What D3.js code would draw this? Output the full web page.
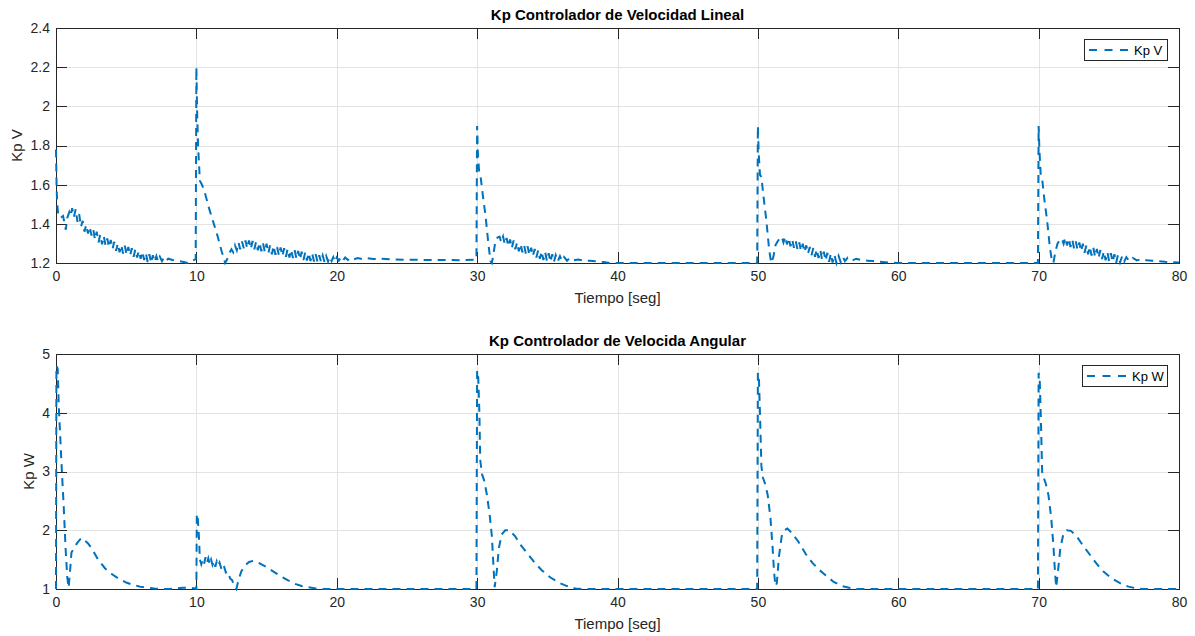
<!DOCTYPE html>
<html>
<head>
<meta charset="utf-8">
<script src="https://cdn.jsdelivr.net/npm/d3@7"></script>
<style>
  body { margin: 0; background: #fff; }
  svg { display: block; font-family: "Liberation Sans", Arial, Helvetica, sans-serif; }
</style>
</head>
<body>
<svg id="chart"></svg>
<script>
// tick values
const timeTicks = [0, 10, 20, 30, 40, 50, 60, 70, 80];
const kpVTicks = [1.2, 1.4, 1.6, 1.8, 2, 2.2, 2.4];
const kpWTicks = [1, 2, 3, 4, 5];

// Kp V  [tiempo, valor]
const kpV0 = [[0,1.78],[0.04,1.6],[0.08,1.51],[0.15,1.45],[0.3,1.43],[0.5,1.44],[0.62,1.4],[0.7,1.37],[0.8,1.43],
  [0.95,1.46],[1.05,1.44],[1.15,1.48],[1.28,1.435],[1.4,1.475],[1.53,1.41],[1.65,1.45],[1.78,1.385],[1.9,1.415],[2.03,1.36],
  [2.15,1.395],[2.28,1.35],[2.4,1.385],[2.53,1.34],[2.65,1.372],[2.78,1.32],[2.9,1.36],[3.03,1.305],[3.15,1.345],[3.28,1.295],
  [3.4,1.338],[3.53,1.29],[3.65,1.325],[3.78,1.28],[3.9,1.318],[4.03,1.272],[4.15,1.308],[4.28,1.262],[4.4,1.3],[4.53,1.255],
  [4.65,1.292],[4.78,1.248],[4.9,1.288],[5.03,1.242],[5.15,1.282],[5.28,1.238],[5.4,1.275],[5.53,1.232],[5.65,1.27],[5.78,1.228],
  [5.9,1.262],[6.03,1.222],[6.15,1.258],[6.28,1.215],[6.4,1.25],[6.53,1.205],[6.65,1.245],[6.78,1.2],[6.9,1.24],[7.03,1.205],
  [7.15,1.235],[7.28,1.208],[7.4,1.232],[7.55,1.21],[7.7,1.228],[7.85,1.212],[8.0,1.222],[8.3,1.215],[8.7,1.21],[9.1,1.205],
  [9.4,1.2],[9.7,1.21],[9.95,1.22]];
const kpV10 = [[10.0,2.2],[10.05,1.98],[10.12,1.8],[10.25,1.62],[10.4,1.6],[10.6,1.56],[10.9,1.48],[11.2,1.41],[11.5,1.34],[11.8,1.26],
  [12.05,1.2],[12.2,1.22],[12.35,1.25],[12.5,1.27],[12.62,1.255],[12.75,1.29],[12.88,1.265],[13.0,1.305],[13.12,1.27],[13.25,1.31],
  [13.38,1.275],[13.5,1.315],[13.62,1.275],[13.75,1.315],[13.88,1.272],[14.0,1.312],[14.13,1.27],[14.25,1.308],[14.38,1.265],[14.5,1.305],
  [14.63,1.26],[14.75,1.3],[14.88,1.255],[15.0,1.298],[15.13,1.25],[15.25,1.29],[15.38,1.245],[15.5,1.288],[15.63,1.242],[15.75,1.282],
  [15.88,1.238],[16.0,1.28],[16.13,1.235],[16.25,1.275],[16.38,1.232],[16.5,1.272],[16.63,1.228],[16.75,1.268],[16.88,1.225],[17.0,1.265],
  [17.13,1.222],[17.25,1.262],[17.38,1.218],[17.5,1.258],[17.63,1.215],[17.75,1.255],[17.88,1.212],[18.0,1.252],[18.13,1.21],[18.25,1.248],
  [18.38,1.208],[18.5,1.245],[18.63,1.205],[18.75,1.24],[18.88,1.205],[19.0,1.238],[19.13,1.205],[19.25,1.235],[19.38,1.208],[19.5,1.232],
  [19.63,1.21],[19.75,1.23],[19.88,1.205],[20.0,1.228],[20.15,1.212],[20.3,1.23],[20.45,1.214],[20.6,1.228],[20.8,1.215],[21.0,1.226],
  [21.2,1.218],[21.5,1.225],[21.8,1.22],[22.2,1.224],[22.6,1.22],[23.0,1.222],[24,1.218],[25,1.216],[26,1.216],[27,1.215],
  [28,1.215],[29,1.214],[29.95,1.218]];
const kpV30 = [[30.0,1.9],[30.06,1.75],[30.15,1.66],[30.25,1.64],[30.4,1.55],[30.6,1.44],[30.8,1.3],[30.95,1.21],[31.05,1.2],[31.15,1.24],
  [31.3,1.31],[31.45,1.33],[31.6,1.335],[31.72,1.305],[31.85,1.335],[31.97,1.295],[32.1,1.328],[32.22,1.285],[32.35,1.32],[32.47,1.275],
  [32.6,1.315],[32.72,1.27],[32.85,1.305],[32.97,1.26],[33.1,1.298],[33.22,1.255],[33.35,1.29],[33.47,1.248],[33.6,1.285],[33.72,1.24],
  [33.85,1.278],[33.97,1.235],[34.1,1.272],[34.22,1.228],[34.35,1.265],[34.47,1.222],[34.6,1.26],[34.72,1.215],[34.85,1.255],[34.97,1.21],
  [35.1,1.25],[35.22,1.205],[35.35,1.245],[35.47,1.205],[35.6,1.24],[35.75,1.208],[35.9,1.235],[36.05,1.21],[36.2,1.23],[36.4,1.212],
  [36.6,1.226],[36.9,1.214],[37.2,1.218],[37.6,1.212],[38.0,1.212],[38.5,1.208],[39.0,1.205],[39.5,1.2],[40,1.2],[45,1.2],[49.95,1.2]];
const kpV50 = [[50.0,1.9],[50.06,1.76],[50.15,1.65],[50.25,1.64],[50.4,1.54],[50.6,1.42],[50.8,1.27],[50.95,1.2],[51.1,1.23],[51.25,1.29],
  [51.4,1.31],[51.55,1.325],[51.7,1.335],[51.82,1.305],[51.95,1.335],[52.07,1.295],[52.2,1.328],[52.32,1.285],[52.45,1.32],[52.57,1.278],
  [52.7,1.312],[52.82,1.27],[52.95,1.305],[53.07,1.262],[53.2,1.298],[53.32,1.255],[53.45,1.29],[53.57,1.248],[53.7,1.282],[53.82,1.24],
  [53.95,1.276],[54.07,1.232],[54.2,1.27],[54.32,1.225],[54.45,1.265],[54.57,1.218],[54.7,1.258],[54.82,1.212],[54.95,1.252],[55.07,1.206],
  [55.2,1.248],[55.32,1.202],[55.45,1.242],[55.6,1.2],[55.75,1.236],[55.9,1.205],[56.05,1.232],[56.2,1.21],[56.4,1.228],[56.7,1.212],
  [57.0,1.222],[57.4,1.214],[57.8,1.212],[58.2,1.21],[58.7,1.206],[59.3,1.203],[60,1.2],[65,1.2],[69.95,1.2]];
const kpV70 = [[70.0,1.9],[70.06,1.77],[70.15,1.65],[70.25,1.63],[70.4,1.53],[70.6,1.42],[70.8,1.28],[70.95,1.21],[71.05,1.2],[71.2,1.26],
  [71.35,1.3],[71.5,1.315],[71.65,1.325],[71.78,1.298],[71.9,1.33],[72.02,1.29],[72.15,1.325],[72.27,1.282],[72.4,1.318],[72.52,1.275],
  [72.65,1.31],[72.77,1.268],[72.9,1.305],[73.02,1.26],[73.15,1.298],[73.27,1.252],[73.4,1.29],[73.52,1.245],[73.65,1.284],[73.77,1.238],
  [73.9,1.278],[74.02,1.232],[74.15,1.272],[74.27,1.226],[74.4,1.266],[74.52,1.22],[74.65,1.26],[74.77,1.214],[74.9,1.255],[75.02,1.21],
  [75.15,1.25],[75.27,1.205],[75.4,1.245],[75.52,1.2],[75.65,1.24],[75.8,1.203],[75.95,1.235],[76.1,1.208],[76.25,1.23],[76.45,1.21],
  [76.7,1.226],[77.0,1.213],[77.3,1.22],[77.7,1.214],[78.1,1.212],[78.5,1.21],[79.0,1.206],[79.5,1.204],[80,1.203]];

// Kp W  [tiempo, valor]
const kpW0 = [[0,1.0],[0.03,4.8],[0.12,4.75],[0.2,4.1],[0.3,3.6],[0.42,3.0],[0.55,2.4],[0.68,1.7],[0.8,1.2],[0.9,1.02],
  [1.0,1.3],[1.1,1.62],[1.3,1.7],[1.5,1.78],[1.7,1.84],[1.85,1.87],[2.05,1.83],[2.3,1.77],[2.6,1.67],[3.0,1.5],
  [3.5,1.35],[4.0,1.25],[4.5,1.17],[5.0,1.11],[5.5,1.07],[6.0,1.04],[6.5,1.025],[7.0,1.01],[7.5,1.0],[8.0,1.0],
  [8.5,1.01],[9.0,1.02],[9.5,1.02],[9.9,1.01],[9.98,1.0]];
const kpW10 = [[10.0,1.0],[10.03,2.28],[10.1,2.2],[10.18,1.9],[10.25,1.5],[10.35,1.42],[10.45,1.5],[10.55,1.43],[10.65,1.54],[10.75,1.44],
  [10.85,1.52],[10.95,1.42],[11.05,1.5],[11.15,1.41],[11.25,1.48],[11.35,1.38],[11.45,1.47],[11.55,1.4],[11.65,1.45],[11.8,1.33],
  [11.95,1.4],[12.1,1.28],[12.25,1.3],[12.4,1.18],[12.55,1.15],[12.7,1.05],[12.85,1.0],[13.0,1.15],[13.2,1.3],[13.45,1.4],
  [13.75,1.46],[14.05,1.48],[14.4,1.45],[14.8,1.4],[15.2,1.34],[15.6,1.28],[16.0,1.22],[16.5,1.15],[17.0,1.09],[17.5,1.05],
  [18.0,1.03],[18.5,1.01],[19,1.0],[20,1.0],[25,1.0],[29.95,1.0]];
const kpW30 = [[30.0,4.72],[30.08,4.6],[30.16,4.0],[30.22,3.2],[30.35,2.95],[30.5,2.85],[30.7,2.6],[30.9,2.25],[31.05,1.9],[31.15,1.45],
  [31.25,1.03],[31.4,1.3],[31.55,1.7],[31.75,1.93],[32.0,2.0],[32.3,2.0],[32.7,1.9],[33.1,1.75],[33.6,1.6],[34.1,1.45],
  [34.6,1.32],[35.2,1.2],[35.8,1.11],[36.4,1.05],[37,1.01],[37.5,1.0],[40,1.0],[45,1.0],[49.95,1.0]];
const kpW50 = [[50.0,4.68],[50.08,4.55],[50.16,3.9],[50.25,3.1],[50.35,2.9],[50.5,2.8],[50.7,2.6],[50.9,2.2],[51.05,1.7],[51.15,1.3],
  [51.25,1.05],[51.35,1.1],[51.5,1.55],[51.7,1.9],[51.9,2.0],[52.1,2.03],[52.4,1.96],[52.9,1.8],[53.4,1.6],[53.9,1.44],
  [54.4,1.32],[54.8,1.24],[55.4,1.12],[56,1.05],[56.5,1.02],[57,1.0],[60,1.0],[65,1.0],[69.95,1.0]];
const kpW70 = [[70.0,4.68],[70.08,4.55],[70.16,3.9],[70.25,3.0],[70.35,2.9],[70.5,2.8],[70.7,2.6],[70.9,2.2],[71.05,1.75],[71.15,1.35],
  [71.25,1.03],[71.4,1.35],[71.55,1.7],[71.75,1.92],[72.0,2.0],[72.3,1.99],[72.7,1.9],[73.1,1.76],[73.6,1.6],[74.1,1.44],
  [74.6,1.3],[75.2,1.18],[75.8,1.1],[76.4,1.04],[77,1.01],[77.5,1.0],[80,1.0]];

const kpV = [].concat(kpV0, kpV10, kpV30, kpV50, kpV70);
const kpW = [].concat(kpW0, kpW10, kpW30, kpW50, kpW70);

const width = 1195, height = 636;
const lineColor = '#0072BD';
const axisColor = '#262626';

const svg = d3.select('#chart')
    .attr('width', width)
    .attr('height', height);

svg.append('rect').attr('width', width).attr('height', height).attr('fill', '#fff');

function drawPanel(opts) {
    const g = svg.append('g');
    const x = d3.scaleLinear().domain([0, 80]).range([56, 1179]);
    const y = d3.scaleLinear().domain(opts.yDomain).range([opts.bottom, opts.top]);
    const h = opts.bottom - opts.top;
    const w = 1179 - 56;

    // grid
    const gridX = g.append('g')
        .attr('transform', `translate(0, ${opts.bottom})`)
        .call(d3.axisBottom(x).tickValues(timeTicks).tickSize(-h).tickFormat(''));
    const gridY = g.append('g')
        .attr('transform', `translate(56, 0)`)
        .call(d3.axisLeft(y).tickValues(opts.yTicks).tickSize(-w).tickFormat(''));
    [gridX, gridY].forEach(gr => {
        gr.select('.domain').remove();
        gr.selectAll('line').attr('stroke', '#e3e3e3').attr('shape-rendering', 'crispEdges');
    });

    // box + ticks
    const axes = [
        g.append('g').attr('transform', `translate(0, ${opts.bottom})`)
            .call(d3.axisBottom(x).tickValues(timeTicks).tickSizeInner(-11).tickSizeOuter(0).tickPadding(8)),
        g.append('g').attr('transform', `translate(0, ${opts.top})`)
            .call(d3.axisTop(x).tickValues(timeTicks).tickSizeInner(-11).tickSizeOuter(0).tickFormat('')),
        g.append('g').attr('transform', `translate(56, 0)`)
            .call(d3.axisLeft(y).tickValues(opts.yTicks).tickSizeInner(-11).tickSizeOuter(0).tickPadding(6)
                .tickFormat(d => String(d))),
        g.append('g').attr('transform', `translate(1179, 0)`)
            .call(d3.axisRight(y).tickValues(opts.yTicks).tickSizeInner(-11).tickSizeOuter(0).tickFormat(''))
    ];
    axes.forEach(a => {
        a.attr('font-family', null).attr('font-size', 14);
        a.selectAll('.domain').attr('stroke', axisColor).attr('shape-rendering', 'crispEdges');
        a.selectAll('line').attr('stroke', axisColor).attr('shape-rendering', 'crispEdges');
        a.selectAll('text').attr('fill', axisColor);
    });

    // data
    const line = d3.line().x(d => x(d[0])).y(d => y(d[1]));
    g.append('path')
        .datum(opts.data)
        .attr('d', line)
        .attr('fill', 'none')
        .attr('stroke', lineColor)
        .attr('stroke-width', 2)
        .attr('stroke-dasharray', '8,6');

    // title
    g.append('text')
        .attr('x', 617.5).attr('y', opts.top - 8)
        .attr('text-anchor', 'middle')
        .attr('font-weight', 'bold')
        .attr('font-size', 15)
        .attr('fill', '#000')
        .text(opts.title);

    // x label
    g.append('text')
        .attr('x', 617.5).attr('y', opts.bottom + 40)
        .attr('text-anchor', 'middle')
        .attr('font-size', 15)
        .attr('fill', axisColor)
        .text('Tiempo [seg]');

    // y label
    g.append('text')
        .attr('transform', `translate(${opts.yLabelX}, ${(opts.top + opts.bottom) / 2}) rotate(-90)`)
        .attr('text-anchor', 'middle')
        .attr('dy', '0.35em')
        .attr('font-size', 15)
        .attr('fill', axisColor)
        .text(opts.yLabel);

    // legend
    const lg = opts.legend;
    g.append('rect')
        .attr('x', lg.x + 0.5).attr('y', lg.y + 0.5)
        .attr('width', lg.w).attr('height', 21)
        .attr('fill', '#fff')
        .attr('stroke', axisColor)
        .attr('stroke-width', 1);
    g.append('line')
        .attr('x1', lg.x + 5).attr('x2', lg.x + 48)
        .attr('y1', lg.y + 11).attr('y2', lg.y + 11)
        .attr('stroke', lineColor)
        .attr('stroke-width', 2)
        .attr('stroke-dasharray', '8,7.5');
    g.append('text')
        .attr('x', lg.x + 50).attr('y', lg.y + 11)
        .attr('dy', '0.35em')
        .attr('font-size', 13)
        .attr('fill', '#000')
        .text(opts.yLabel);
}

drawPanel({
    top: 28, bottom: 263,
    yDomain: [1.2, 2.4], yTicks: kpVTicks,
    data: kpV,
    title: 'Kp Controlador de Velocidad Lineal',
    yLabel: 'Kp V', yLabelX: 17,
    legend: { x: 1084, y: 39, w: 83 }
});

drawPanel({
    top: 354, bottom: 589,
    yDomain: [1, 5], yTicks: kpWTicks,
    data: kpW,
    title: 'Kp Controlador de Velocida Angular',
    yLabel: 'Kp W', yLabelX: 29,
    legend: { x: 1082, y: 365, w: 85 }
});
</script>
</body>
</html>
